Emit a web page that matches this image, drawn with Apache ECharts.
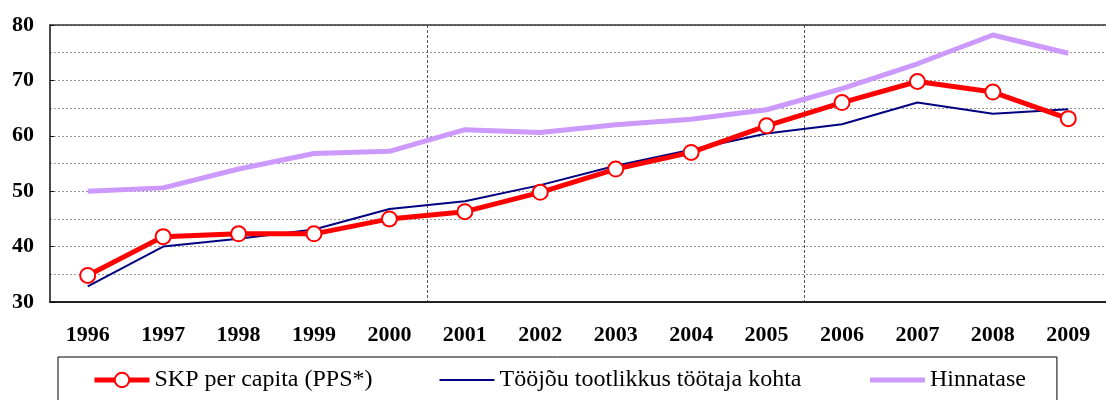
<!DOCTYPE html>
<html>
<head>
<meta charset="utf-8">
<script src="https://cdn.jsdelivr.net/npm/echarts@6/dist/echarts.min.js"></script>
<style>
  html, body { margin: 0; padding: 0; background: #fff; }
  #chart { width: 1106px; height: 400px; }
</style>
</head>
<body>
<div id="chart"></div>
<script>
var years = ['1996', '1997', '1998', '1999', '2000', '2001', '2002', '2003', '2004', '2005', '2006', '2007', '2008', '2009'];
var skpPerCapita = [34.8, 41.8, 42.3, 42.3, 45.0, 46.3, 49.8, 54.0, 57.0, 61.8, 66.0, 69.8, 67.9, 63.1];
var tootlikkus = [32.8, 40.0, 41.4, 43.1, 46.8, 48.2, 51.1, 54.6, 57.5, 60.4, 62.1, 66.0, 64.0, 64.8];
var hinnatase = [50.0, 50.6, 54.0, 56.8, 57.2, 61.1, 60.6, 62.0, 63.0, 64.7, 68.5, 73.0, 78.2, 74.9];
var seriesNames = ['SKP per capita (PPS*)', 'Tööjõu tootlikkus töötaja kohta', 'Hinnatase'];

var font = 'Liberation Serif';
var myChart = echarts.init(document.getElementById('chart'));
var option;

option = {
  animation: false,
  grid: { left: 50, right: -11, top: 25, bottom: 98 },
  legend: {
    left: 58,
    top: 357,
    padding: [11, 31, 14, 34],
    borderColor: '#000',
    borderWidth: 1,
    itemWidth: 55,
    itemHeight: 18,
    itemGap: 66,
    data: [
      { name: seriesNames[0], lineStyle: { width: 5 } },
      { name: seriesNames[1], itemStyle: { opacity: 0 }, lineStyle: { width: 2 } },
      { name: seriesNames[2], itemStyle: { opacity: 0 }, lineStyle: { width: 5 } }
    ],
    textStyle: { fontFamily: font, fontSize: 24, color: '#000' }
  },
  xAxis: [
    {
      type: 'category',
      data: years,
      axisLine: { lineStyle: { color: '#222', width: 2 } },
      axisTick: {
        length: 5,
        interval: function (i) { return i % 5 === 0; },
        lineStyle: { color: '#222' }
      },
      axisLabel: {
        interval: 0,
        margin: 22,
        fontFamily: font,
        fontWeight: 'bold',
        fontSize: 22,
        color: '#000'
      },
      splitLine: {
        show: true,
        interval: function (i) { return i % 5 === 0 && i > 0; },
        lineStyle: { color: '#555', type: [3, 2], width: 1 }
      }
    },
    {
      type: 'category',
      data: years,
      position: 'top',
      axisLine: { lineStyle: { color: '#333', width: 1.5 } },
      axisTick: { show: false },
      axisLabel: { show: false },
      splitLine: { show: false }
    }
  ],
  yAxis: {
    type: 'value',
    min: 30,
    max: 80,
    interval: 10,
    axisLine: { show: true, lineStyle: { color: '#111', width: 1.5 } },
    axisTick: { show: true, inside: true, length: 4, lineStyle: { color: '#111' } },
    axisLabel: {
      margin: 16,
      fontFamily: font,
      fontWeight: 'bold',
      fontSize: 22,
      color: '#000'
    },
    splitLine: { lineStyle: { color: '#999', type: [2, 2], width: 1 } },
    minorTick: { show: false, splitNumber: 2 },
    minorSplitLine: { show: true, lineStyle: { color: '#999', type: [2, 2], width: 1 } }
  },
  series: [
    {
      name: seriesNames[2],
      type: 'line',
      data: hinnatase,
      symbol: 'none',
      z: 2,
      lineStyle: { color: '#CC99FF', width: 5 },
      itemStyle: { color: '#CC99FF' }
    },
    {
      name: seriesNames[1],
      type: 'line',
      data: tootlikkus,
      symbol: 'none',
      z: 3,
      lineStyle: { color: '#000080', width: 2 },
      itemStyle: { color: '#000080' }
    },
    {
      name: seriesNames[0],
      type: 'line',
      data: skpPerCapita,
      symbol: 'circle',
      symbolSize: 15,
      z: 4,
      lineStyle: { color: '#FF0000', width: 5 },
      itemStyle: { color: '#fff', borderColor: '#FF0000', borderWidth: 2 }
    }
  ]
};

option && myChart.setOption(option);
window.onresize = function () {
  myChart.resize();
};
</script>
</body>
</html>
